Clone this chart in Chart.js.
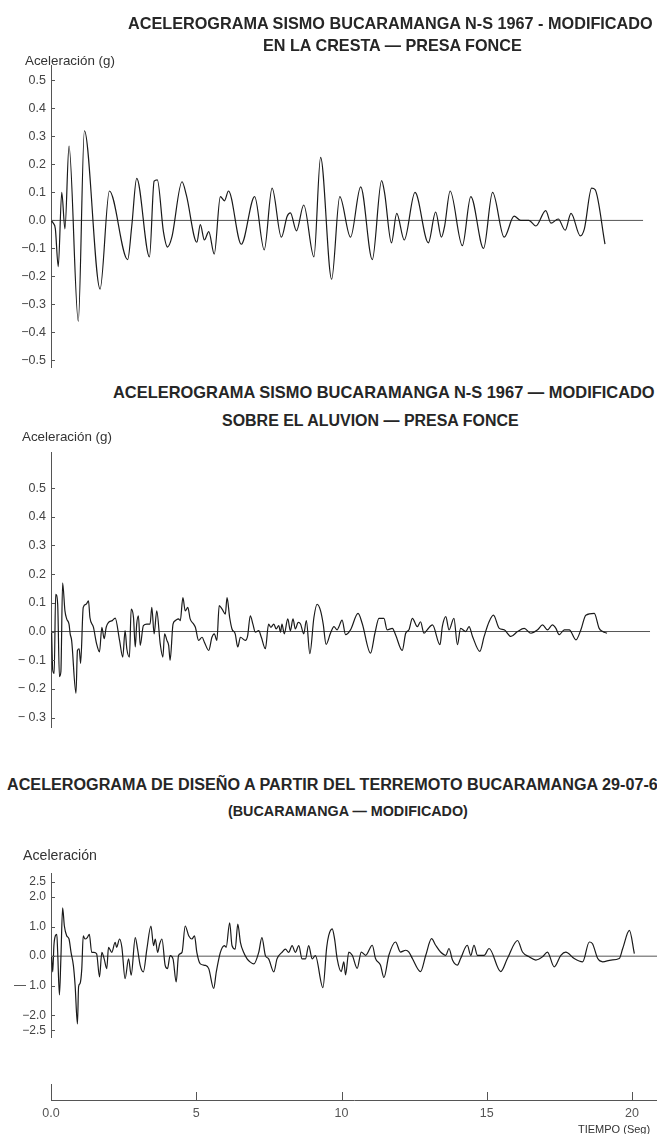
<!DOCTYPE html>
<html>
<head>
<meta charset="utf-8">
<title>Acelerogramas Bucaramanga 1967 - Presa Fonce</title>
<script src="https://cdn.jsdelivr.net/npm/chart.js@4.4.1/dist/chart.umd.min.js"></script>
<style>
  html, body { margin: 0; padding: 0; background: #fff; }
  #page { position: relative; width: 657px; height: 1134px; overflow: hidden;
          font-family: "Liberation Sans", Arial, sans-serif; color: #262626; }
  #page canvas { position: absolute; left: 0; }
  .txt { position: absolute; white-space: nowrap; line-height: 1; }
  .title { font-weight: bold; }
  .lab { color: #333; }
</style>
</head>
<body>
<div id="page">
  <canvas id="cresta" width="657" height="380" style="top:0px"></canvas>
  <canvas id="aluvion" width="657" height="300" style="top:440px"></canvas>
  <canvas id="diseno" width="657" height="190" style="top:860px"></canvas>
  <canvas id="tiempo" width="657" height="64" style="top:1070px"></canvas>

  <div class="txt title" id="t1a">ACELEROGRAMA SISMO BUCARAMANGA N-S 1967 - MODIFICADO</div>
  <div class="txt title" id="t1b">EN LA CRESTA — PRESA FONCE</div>
  <div class="txt lab" id="y1">Aceleración (g)</div>

  <div class="txt title" id="t2a">ACELEROGRAMA SISMO BUCARAMANGA N-S 1967 — MODIFICADO</div>
  <div class="txt title" id="t2b">SOBRE EL ALUVION — PRESA FONCE</div>
  <div class="txt lab" id="y2">Aceleración (g)</div>

  <div class="txt title" id="t3a">ACELEROGRAMA DE DISEÑO A PARTIR DEL TERREMOTO BUCARAMANGA 29-07-67</div>
  <div class="txt title" id="t3b">(BUCARAMANGA — MODIFICADO)</div>
  <div class="txt lab" id="y3">Aceleración</div>

  <div class="txt lab" id="tx">TIEMPO (Seg)</div>
</div>

<script>
// --- datos ---
const xMax = 20.86; // segundos visibles hasta el borde derecho

// En la cresta (g)
const crestaTime = [0.00,0.08,0.15,0.25,0.37,0.48,0.62,0.94,1.15,1.69,2.01,2.64,2.78,2.95,3.39,3.55,3.66,3.87,4.01,4.16,
  4.51,4.66,5.02,5.14,5.28,5.43,5.62,5.83,5.97,6.11,6.55,7.01,7.34,7.61,7.93,8.13,8.24,8.45,8.70,9.05,
  9.28,9.66,9.94,10.31,10.66,11.06,11.38,11.48,11.72,11.90,12.16,12.53,12.99,13.24,13.44,13.55,13.74,14.16,14.45,14.89,
  15.20,15.60,15.94,16.17,16.45,16.69,17.03,17.21,17.46,17.70,17.90,18.22,18.36,18.61,18.73,19.07];
const crestaAccel = [0.0,-0.01,-0.03,-0.165,0.10,-0.03,0.265,-0.36,0.32,-0.245,0.105,-0.14,-0.02,0.15,-0.13,0.14,0.145,-0.04,-0.095,-0.06,
  0.138,0.09,-0.078,-0.015,-0.07,-0.04,-0.12,0.085,0.07,0.105,-0.085,0.085,-0.105,0.115,-0.06,0.015,0.027,-0.037,0.055,-0.13,
  0.225,-0.21,0.085,-0.06,0.12,-0.14,0.142,0.10,-0.08,0.025,-0.07,0.10,-0.08,0.03,-0.06,-0.02,0.105,-0.09,0.085,-0.10,
  0.10,-0.06,0.015,0.0,0.0,-0.02,0.035,-0.01,0.005,-0.035,0.025,-0.055,-0.03,0.115,0.11,-0.085];
const crestaZeroEnd = 20.38;
const crestaTicks = [-0.5,-0.4,-0.3,-0.2,-0.1,0.0,0.1,0.2,0.3,0.4,0.5];
const crestaLabels = ["−0.5","−0.4","−0.3","−0.2","−0.1","0.0","0.1","0.2","0.3","0.4","0.5"];

// Sobre el aluvion (g)
const aluvionTime = [0.02,0.06,0.11,0.16,0.23,0.29,0.34,0.40,0.48,0.54,0.62,0.66,0.71,0.86,0.91,0.97,1.02,1.11,1.21,1.29,
  1.34,1.46,1.57,1.67,1.75,1.83,1.90,1.98,2.11,2.21,2.36,2.47,2.55,2.61,2.70,2.76,2.84,2.90,2.95,3.01,
  3.07,3.18,3.30,3.41,3.47,3.55,3.64,3.76,3.85,3.91,3.99,4.05,4.10,4.20,4.28,4.39,4.45,4.54,4.62,4.71,
  4.79,4.91,4.97,5.08,5.20,5.28,5.43,5.54,5.62,5.71,5.79,5.89,6.00,6.06,6.15,6.23,6.34,6.43,6.52,6.69,
  6.77,6.86,6.95,7.03,7.15,7.24,7.38,7.49,7.57,7.67,7.75,7.84,7.90,7.95,8.03,8.15,8.24,8.33,8.41,8.51,
  8.59,8.70,8.79,8.91,9.05,9.16,9.28,9.37,9.47,9.62,9.74,9.85,9.91,10.02,10.14,10.31,10.57,10.71,11.00,11.15,
  11.29,11.46,11.57,11.75,11.86,12.09,12.21,12.32,12.44,12.61,12.72,12.84,12.95,13.13,13.39,13.47,13.59,13.70,13.87,13.99,
  14.10,14.28,14.39,14.51,14.76,14.91,15.08,15.23,15.43,15.60,15.83,16.06,16.29,16.52,16.75,16.92,17.09,17.26,17.38,17.49,
  17.67,17.84,18.07,18.24,18.41,18.70,18.87,18.99,19.14];
const aluvionAccel = [0.0,-0.135,-0.146,0.13,0.095,-0.157,-0.14,0.17,0.072,0.044,0.026,-0.008,-0.031,-0.215,-0.066,-0.06,-0.111,0.084,0.095,0.107,
  0.049,0.015,-0.043,-0.071,0.015,-0.025,0.015,0.032,0.038,0.047,-0.031,-0.089,0.003,-0.06,-0.089,0.078,0.049,-0.054,0.026,0.055,
  -0.048,0.021,0.026,0.026,0.084,-0.008,0.072,-0.043,-0.089,-0.008,-0.031,-0.048,-0.1,0.026,0.038,0.044,0.038,0.118,0.072,0.084,
  0.044,0.026,0.015,-0.031,-0.02,-0.037,-0.066,-0.02,-0.008,-0.031,0.09,0.078,0.061,0.118,0.049,0.009,-0.008,-0.054,-0.02,-0.031,
  -0.014,0.055,0.026,-0.002,0.003,-0.02,-0.06,0.026,0.015,0.026,0.009,0.021,-0.002,0.026,-0.008,0.044,0.003,0.044,0.009,0.032,
  0.026,-0.008,0.038,-0.077,0.049,0.095,0.072,0.026,-0.045,-0.006,0.017,0.006,0.017,0.04,-0.011,0.006,0.063,0.029,-0.075,-0.006,
  0.046,0.046,0.006,0.011,-0.011,-0.066,-0.006,0.006,0.046,0.017,0.034,-0.006,0.006,0.023,-0.046,0.017,0.052,0.006,0.046,-0.046,
  0.011,0.0,0.017,-0.017,-0.069,-0.017,0.034,0.057,0.011,0.006,-0.017,0.0,0.011,-0.006,0.006,0.023,0.006,0.023,0.011,-0.011,
  0.006,0.006,-0.029,0.006,0.057,0.063,0.011,0.0,-0.006];
const aluvionZeroEnd = 20.62;
const aluvionTicks = [-0.3,-0.2,-0.1,0.0,0.1,0.2,0.3,0.4,0.5];
const aluvionLabels = ["− 0.3","− 0.2","− 0.1","0.0","0.1","0.2","0.3","0.4","0.5"];

// Diseno (modificado)
const disenoTime = [0.02,0.06,0.10,0.15,0.20,0.23,0.29,0.34,0.40,0.46,0.54,0.62,0.69,0.77,0.83,0.91,0.95,1.00,1.06,1.11,
  1.17,1.25,1.32,1.40,1.48,1.57,1.67,1.75,1.83,1.92,1.98,2.09,2.21,2.26,2.36,2.44,2.55,2.67,2.76,2.90,
  2.98,3.07,3.18,3.30,3.44,3.53,3.59,3.67,3.74,3.82,3.93,4.01,4.10,4.20,4.31,4.39,4.51,4.62,4.74,4.85,
  4.94,5.02,5.14,5.31,5.43,5.60,5.69,5.83,5.97,6.03,6.15,6.23,6.34,6.43,6.52,6.63,6.75,6.86,6.98,7.15,
  7.26,7.38,7.49,7.67,7.78,7.95,8.07,8.18,8.30,8.41,8.53,8.64,8.76,8.87,8.99,9.10,9.36,9.49,9.56,9.68,
  9.76,9.85,9.99,10.08,10.14,10.25,10.37,10.54,10.68,10.83,11.06,11.17,11.34,11.46,11.63,11.86,12.03,12.21,12.32,12.44,
  12.72,12.90,13.10,13.24,13.41,13.59,13.70,13.82,13.99,14.10,14.33,14.45,14.56,14.68,14.91,15.08,15.48,15.71,16.06,16.23,
  16.46,16.69,16.92,17.09,17.32,17.55,17.72,18.01,18.30,18.53,18.64,18.82,18.99,19.28,19.56,19.68,19.91,20.08];
const disenoAccel = [0,-0.53,0.36,0.69,0.74,0.13,-1.31,-0.09,1.63,1.02,0.69,0.58,0.13,-0.31,-0.98,-2.29,-1.03,-0.92,-0.42,0.69,
  0.58,0.63,0.74,0.13,0.13,0.08,-0.7,0.13,-0.09,-0.42,0.3,0.13,0.47,0.3,0.58,0.3,-0.76,-0.09,-0.64,0.63,
  0.24,-0.31,-0.53,0.24,1.02,0.36,0.58,0.13,0.41,0.58,-0.31,-0.42,0.02,-0.09,-0.87,0.02,0.13,1.02,0.69,0.58,
  0.69,0.13,-0.26,-0.31,-0.42,-1.09,-0.53,0.13,0.36,0.3,1.13,0.36,0.24,1.08,0.47,0.13,-0.09,-0.2,-0.26,0.13,
  0.63,0.02,-0.09,-0.53,-0.09,0.13,0.24,0.13,0.36,0.13,0.36,-0.09,-0.09,0.36,-0.09,0.02,-1.06,0.3,0.7,0.92,
  0.59,-0.08,-0.52,-0.19,-0.63,0.14,0.03,-0.41,0.14,0.03,0.37,-0.08,-0.3,-0.72,0.03,0.48,0.14,0.2,0.14,-0.08,
  -0.52,0.03,0.59,0.37,0.14,0.03,0.26,-0.13,-0.3,-0.08,0.37,0.03,0.37,0.03,0.03,0.26,-0.52,-0.08,0.53,0.14,
  -0.02,-0.13,-0.02,0.14,-0.36,0.03,0.14,-0.08,-0.19,0.48,0.42,-0.08,-0.19,-0.13,-0.08,0.26,0.87,0.09];
const disenoZeroEnd = 20.86;
const disenoTicks = [-2.5,-2.0,-1.0,0.0,1.0,2.0,2.5];
const disenoLabels = ["−2.5","−2.0","— 1.0","0.0","1.0","2.0","2.5"];

// Eje de tiempo
const timeTicks = [0,5,10,15,20];
const timeLabels = ["0.0","5","10","15","20"];

// --- graficos ---
Chart.defaults.font.family = "'Liberation Sans', Arial, sans-serif";
Chart.defaults.color = '#444';

// marcas cortas hacia dentro del area, como en el original
const innerTicks = {
  id: 'innerTicks',
  afterDraw(chart, args, opts) {
    const ctx = chart.ctx;
    ctx.save();
    ctx.strokeStyle = '#555';
    ctx.lineWidth = 1;
    if (opts.axis === 'y') {
      const s = chart.scales.y;
      s.ticks.forEach(t => {
        const p = Math.round(s.getPixelForValue(t.value)) + 0.5;
        ctx.beginPath(); ctx.moveTo(s.right, p); ctx.lineTo(s.right + opts.length, p); ctx.stroke();
      });
    } else {
      const s = chart.scales.x;
      s.ticks.forEach(t => {
        if (t.value === 0) return;
        const p = Math.round(s.getPixelForValue(t.value)) + 0.5;
        ctx.beginPath(); ctx.moveTo(p, s.top); ctx.lineTo(p, s.top - opts.length); ctx.stroke();
      });
    }
    ctx.restore();
  }
};

function panelChart(id, time, accel, zeroEnd, yMin, yMax, yTicks, yLabels, pad, fontSize) {
  return new Chart(document.getElementById(id), {
    type: 'line',
    data: {
      datasets: [
        {
          data: time.map((t, i) => ({ x: t, y: accel[i] })),
          borderColor: '#1a1a1a',
          borderWidth: 1.2,
          pointRadius: 0,
          cubicInterpolationMode: 'monotone',
          fill: false
        },
        {
          data: [{ x: 0, y: 0 }, { x: zeroEnd, y: 0 }],
          borderColor: '#555',
          borderWidth: 1,
          pointRadius: 0
        }
      ]
    },
    options: {
      responsive: false,
      animation: false,
      events: [],
      layout: { padding: { top: pad[0], bottom: pad[1], left: 0, right: 0 } },
      plugins: {
        legend: { display: false },
        tooltip: { enabled: false },
        innerTicks: { axis: 'y', length: 4 }
      },
      scales: {
        x: { type: 'linear', display: false, min: 0, max: xMax },
        y: {
          min: yMin,
          max: yMax,
          afterFit: s => { s.width = 51; },
          afterBuildTicks: s => { s.ticks = yTicks.map(v => ({ value: v })); },
          grid: { display: false, drawTicks: false },
          border: { display: true, color: '#555', width: 1 },
          ticks: { autoSkip: false, padding: 5, font: { size: fontSize }, callback: (v, i) => yLabels[i] }
        }
      }
    },
    plugins: [innerTicks]
  });
}

panelChart('cresta', crestaTime, crestaAccel, crestaZeroEnd, -0.525, 0.5547, crestaTicks, crestaLabels, [65, 8], 12.5);
panelChart('aluvion', aluvionTime, aluvionAccel, aluvionZeroEnd, -0.3345, 0.624, aluvionTicks, aluvionLabels, [10, 12], 12.5);
panelChart('diseno', disenoTime, disenoAccel, disenoZeroEnd, -2.757, 2.81, disenoTicks, disenoLabels, [13, 10], 12);

new Chart(document.getElementById('tiempo'), {
  type: 'line',
  data: { datasets: [] },
  options: {
    responsive: false,
    animation: false,
    events: [],
    layout: { padding: { top: 14, bottom: 0, left: 0, right: 0 } },
    plugins: { legend: { display: false }, tooltip: { enabled: false }, innerTicks: { axis: 'x', length: 8 } },
    scales: {
      x: {
        type: 'linear', position: 'bottom', min: 0, max: xMax,
        afterFit: s => { s.height = 34; },
        afterBuildTicks: s => { s.ticks = timeTicks.map(v => ({ value: v })); },
        grid: { display: false, drawTicks: false },
        border: { display: true, color: '#555', width: 1 },
        ticks: { autoSkip: false, maxRotation: 0, padding: 6, color: '#555', font: { size: 12.5 }, callback: (v, i) => timeLabels[i] }
      },
      y: {
        min: 0, max: 1,
        afterFit: s => { s.width = 51; },
        grid: { display: false, drawTicks: false },
        border: { display: true, color: '#555', width: 1 },
        ticks: { display: false }
      }
    }
  },
  plugins: [innerTicks]
});

// --- textos: ajustar tamano al ancho del original ---
function place(id, left, cy, size, width) {
  const el = document.getElementById(id);
  el.style.fontSize = size + 'px';
  if (width) {
    const w = el.getBoundingClientRect().width;
    size = size * width / w;
    el.style.fontSize = size + 'px';
  }
  el.style.left = left + 'px';
  el.style.top = (cy - 0.49 * size) + 'px';
  return size;
}
place('t1a', 128, 22.5, 14, 525);
place('t1b', 263, 44.5, 14, 259);
place('y1', 25, 61, 11, 90);
const s2 = place('t2a', 113, 392, 14, 542);
place('t2b', 222, 421, 14, 297);
place('y2', 22, 437, 11, 90);
place('t3a', 7, 783.5, s2 * 0.985);
place('t3b', 228, 811, 14, 240);
place('y3', 23, 855, 11, 74);
place('tx', 578, 1129, 11);
</script>
</body>
</html>
